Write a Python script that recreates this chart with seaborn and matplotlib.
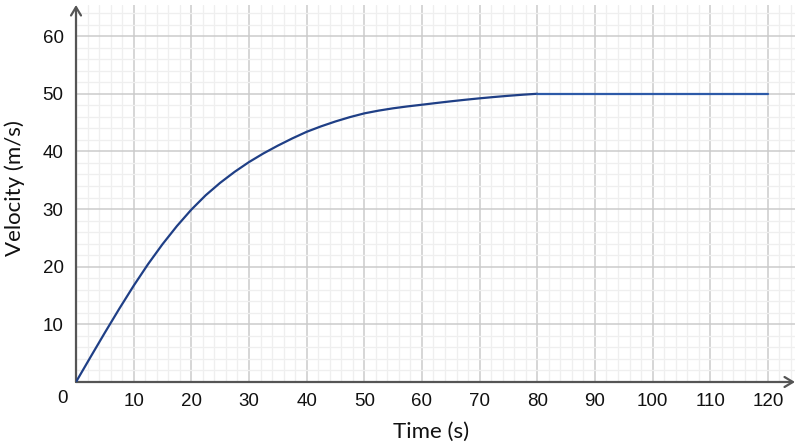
import matplotlib
matplotlib.use("Agg")
import matplotlib.pyplot as plt
import seaborn as sns
import pandas as pd
from matplotlib.ticker import MultipleLocator

# Data
time_curve = [0, 2.5, 5, 7.5, 10, 12.5, 15, 17.5, 20, 22.5, 25, 27.5, 30, 32.5, 35, 37.5,
              40, 42.5, 45, 47.5, 50, 52.5, 55, 57.5, 60, 62.5, 65, 67.5, 70, 72.5, 75, 77.5, 80]
velocity_curve = [0, 4.3, 8.55, 12.7, 16.7, 20.45, 23.9, 27.05, 29.9, 32.4, 34.55, 36.45, 38.15,
                  39.65, 41.0, 42.25, 43.4, 44.35, 45.2, 45.95, 46.6, 47.08, 47.48, 47.81, 48.1,
                  48.4, 48.69, 48.96, 49.21, 49.44, 49.65, 49.84, 50.0]
time_flat = [80, 120]
velocity_flat = [50, 50]
x_ticks = [10, 20, 30, 40, 50, 60, 70, 80, 90, 100, 110, 120]
y_ticks = [10, 20, 30, 40, 50, 60]

sns.set_theme(style="white")
plt.rcParams['font.family'] = ['Liberation Sans', 'DejaVu Sans']

fig = plt.figure(figsize=(8, 4.47), dpi=100)
ax = fig.add_axes([76/800, 65/447, (795-76)/800, (382-5)/447])

df_curve = pd.DataFrame({"t": time_curve, "v": velocity_curve})
df_flat = pd.DataFrame({"t": time_flat, "v": velocity_flat})

sns.lineplot(data=df_curve, x="t", y="v", ax=ax, color="#1f3f86", lw=1.6,
             estimator=None, sort=False, zorder=5)
sns.lineplot(data=df_flat, x="t", y="v", ax=ax, color="#2d5aa8", lw=1.6,
             estimator=None, sort=False, zorder=5)

ax.set_xlim(0, 124.7)
ax.set_ylim(0, 65.4)

ax.xaxis.set_major_locator(MultipleLocator(10))
ax.xaxis.set_minor_locator(MultipleLocator(2))
ax.yaxis.set_major_locator(MultipleLocator(10))
ax.yaxis.set_minor_locator(MultipleLocator(2))
ax.grid(which="major", color="#cbcbcb", lw=1.1, zorder=0)
ax.grid(which="minor", color="#efefef", lw=0.9, zorder=0)
ax.set_axisbelow(True)

ax.set_xticks(x_ticks)
ax.set_yticks(y_ticks)
ax.set_xticklabels([str(t) for t in x_ticks])
ax.set_yticklabels([str(t) for t in y_ticks])
ax.tick_params(axis="both", which="both", length=0, labelsize=13.5, colors="#111111")
ax.tick_params(axis="x", pad=8)
ax.tick_params(axis="y", pad=9)

for s in ax.spines.values():
    s.set_visible(False)

ax.annotate("", xy=(1.0, 0), xytext=(0, 0), xycoords="axes fraction",
            arrowprops=dict(arrowstyle="->,head_length=0.5,head_width=0.3",
                            color="#555555", lw=1.6, shrinkA=0, shrinkB=0))
ax.annotate("", xy=(0, 1.0), xytext=(0, 0), xycoords="axes fraction",
            arrowprops=dict(arrowstyle="->,head_length=0.5,head_width=0.3",
                            color="#555555", lw=1.6, shrinkA=0, shrinkB=0))

ax.annotate("0", xy=(0, 0), xytext=(-14, -8), textcoords="offset pixels",
            ha="center", va="top", fontsize=13.5, color="#111111")

ax.set_xlabel("Time (s)", fontsize=16, family=["Lato", "DejaVu Sans"], color="#111111")
ax.set_ylabel("Velocity (m/s)", fontsize=16, family=["Lato", "DejaVu Sans"], color="#111111")
ax.xaxis.set_label_coords((431-76)/(795-76), -(432-382)/(382-5), transform=ax.transAxes)
ax.yaxis.set_label_coords((15-76)/(795-76), (382-188)/(382-5), transform=ax.transAxes)
ax.xaxis.label.set_va("center")
ax.yaxis.label.set_va("center")

fig.savefig("out.png", dpi=100)
